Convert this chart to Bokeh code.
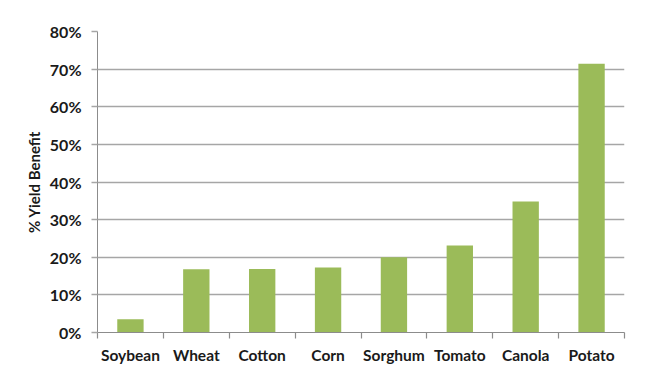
from bokeh.plotting import figure
from bokeh.models import Range1d, FixedTicker, NumeralTickFormatter, ColumnDataSource
from bokeh.embed import file_html
from bokeh.resources import INLINE

crops = ["Soybean", "Wheat", "Cotton", "Corn", "Sorghum", "Tomato", "Canola", "Potato"]
yield_benefit = [0.035, 0.168, 0.169, 0.173, 0.200, 0.231, 0.348, 0.714]
y_ticks = [0.0, 0.1, 0.2, 0.3, 0.4, 0.5, 0.6, 0.7, 0.8]

FONT = "Lato"
GRID = "#A6A6A6"
AXIS = "#8C8C8C"
TEXT = "#1A1A1A"

xs = [i + 0.5 for i in range(len(crops))]
src = ColumnDataSource(dict(x=xs, top=yield_benefit, crop=crops))

p = figure(frame_width=527, frame_height=301, min_border_left=97, min_border_top=31,
           min_border_right=27, min_border_bottom=34,
           x_range=Range1d(0, len(crops)), y_range=Range1d(0, 0.8),
           output_backend="svg", toolbar_location=None)
p.outline_line_color = None
p.background_fill_color = "white"
p.border_fill_color = "white"

p.vbar(x="x", top="top", bottom=0, width=0.4, source=src,
       fill_color="#9BBB59", line_color=None)

# y axis
p.yaxis.ticker = FixedTicker(ticks=y_ticks, minor_ticks=[])
p.yaxis.formatter = NumeralTickFormatter(format="0%")
p.yaxis.axis_line_color = AXIS
p.yaxis.major_tick_line_color = GRID
p.yaxis.major_tick_line_width = 1.5
p.yaxis.major_tick_out = 6
p.yaxis.major_tick_in = 0
p.yaxis.minor_tick_line_color = None
p.yaxis.major_label_text_font = FONT
p.yaxis.major_label_text_font_style = "bold"
p.yaxis.major_label_text_font_size = "16px"
p.yaxis.major_label_text_color = TEXT
p.yaxis.major_label_standoff = 10
p.yaxis.axis_label = "% Yield Benefit"
p.yaxis.axis_label_text_font = FONT
p.yaxis.axis_label_text_font_style = "bold"
p.yaxis.axis_label_text_font_size = "15px"
p.yaxis.axis_label_text_color = TEXT
p.yaxis.axis_label_standoff = 4

# x axis: labels at band centres, ticks at band boundaries
p.xaxis.ticker = FixedTicker(ticks=xs, minor_ticks=list(range(len(crops) + 1)))
p.xaxis.major_label_overrides = {x: c for x, c in zip(xs, crops)}
p.xaxis.major_tick_line_color = None
p.xaxis.minor_tick_line_color = AXIS
p.xaxis.minor_tick_line_width = 1.2
p.xaxis.minor_tick_out = 6
p.xaxis.minor_tick_in = 0
p.xaxis.axis_line_color = AXIS
p.xaxis.axis_line_width = 1.2
p.xaxis.major_label_text_font = FONT
p.xaxis.major_label_text_font_style = "bold"
p.xaxis.major_label_text_font_size = "15.5px"
p.xaxis.major_label_text_color = TEXT
p.xaxis.major_label_standoff = 7

p.xgrid.grid_line_color = None
p.ygrid.ticker = FixedTicker(ticks=y_ticks)
p.ygrid.grid_line_color = GRID
p.ygrid.grid_line_width = 1.5

open("out.html", "w").write(file_html(p, INLINE))
